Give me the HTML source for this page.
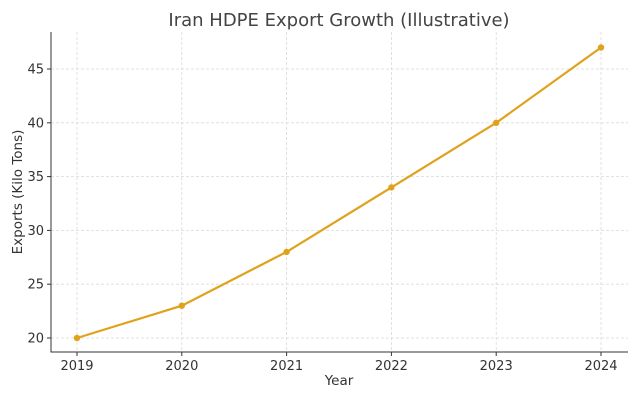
<!DOCTYPE html>
<html><head><meta charset="utf-8"><style>body{margin:0;background:#fff}</style></head><body>
<svg width="640" height="400" xmlns="http://www.w3.org/2000/svg" font-family="DejaVu Sans, Liberation Sans, sans-serif">
<rect width="640" height="400" fill="#fff"/>
<g stroke="#d9d9d9" stroke-width="0.8" stroke-dasharray="3,2">
<line x1="77" y1="32" x2="77" y2="352"/><line x1="181.8" y1="32" x2="181.8" y2="352"/>
<line x1="286.6" y1="32" x2="286.6" y2="352"/><line x1="391.4" y1="32" x2="391.4" y2="352"/>
<line x1="496.2" y1="32" x2="496.2" y2="352"/><line x1="601" y1="32" x2="601" y2="352"/>
<line x1="51" y1="338" x2="628" y2="338"/><line x1="51" y1="284.2" x2="628" y2="284.2"/>
<line x1="51" y1="230.4" x2="628" y2="230.4"/><line x1="51" y1="176.6" x2="628" y2="176.6"/>
<line x1="51" y1="122.8" x2="628" y2="122.8"/><line x1="51" y1="69" x2="628" y2="69"/>
</g>
<g stroke="#333" stroke-width="1">
<line x1="51" y1="32" x2="51" y2="352.5"/><line x1="50.5" y1="352" x2="628" y2="352"/>
<line x1="47" y1="338" x2="51" y2="338"/><line x1="47" y1="284.2" x2="51" y2="284.2"/>
<line x1="47" y1="230.4" x2="51" y2="230.4"/><line x1="47" y1="176.6" x2="51" y2="176.6"/>
<line x1="47" y1="122.8" x2="51" y2="122.8"/><line x1="47" y1="69" x2="51" y2="69"/>
<line x1="77" y1="352" x2="77" y2="356"/><line x1="181.8" y1="352" x2="181.8" y2="356"/>
<line x1="286.6" y1="352" x2="286.6" y2="356"/><line x1="391.4" y1="352" x2="391.4" y2="356"/>
<line x1="496.2" y1="352" x2="496.2" y2="356"/><line x1="601" y1="352" x2="601" y2="356"/>
</g>
<g font-size="13" fill="#333" text-anchor="end">
<text x="44" y="342.5">20</text><text x="44" y="288.7">25</text><text x="44" y="234.9">30</text>
<text x="44" y="181.1">35</text><text x="44" y="127.3">40</text><text x="44" y="73.5">45</text>
</g>
<g font-size="13" fill="#333" text-anchor="middle">
<text x="77" y="370">2019</text><text x="181.8" y="370">2020</text><text x="286.6" y="370">2021</text>
<text x="391.4" y="370">2022</text><text x="496.2" y="370">2023</text><text x="601" y="370">2024</text>
<text x="339" y="385" font-size="13.5">Year</text>
<text x="339" y="26" font-size="18" fill="#444">Iran HDPE Export Growth (Illustrative)</text>
<text transform="translate(22,192) rotate(-90)" font-size="13.5">Exports (Kilo Tons)</text>
</g>
<polyline fill="none" stroke="#e0a11b" stroke-width="2.2" points="77,338 181.8,305.7 286.6,251.9 391.4,187.4 496.2,122.8 601,47.5"/>
<g fill="#e0a11b">
<circle cx="77" cy="338" r="3.2"/><circle cx="181.8" cy="305.7" r="3.2"/><circle cx="286.6" cy="251.9" r="3.2"/>
<circle cx="391.4" cy="187.4" r="3.2"/><circle cx="496.2" cy="122.8" r="3.2"/><circle cx="601" cy="47.5" r="3.2"/>
</g>
</svg>
</body></html>
